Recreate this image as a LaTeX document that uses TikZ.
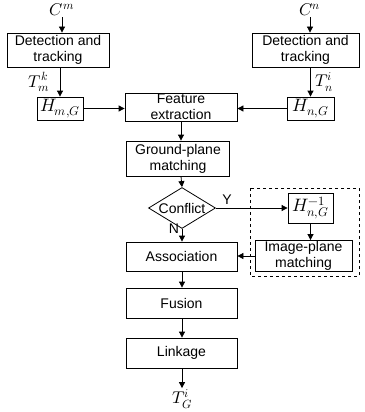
\documentclass[tikz,border=0pt]{standalone}
\usepackage{unicode-math}
\setmainfont{Liberation Sans}
\setmathfont{Latin Modern Math}
\usetikzlibrary{shapes.geometric,arrows.meta}
\begin{document}
\begin{tikzpicture}[x=1pt,y=-1pt,
  box/.style={draw,line width=0.8pt,inner sep=1pt,align=center,font=\fontsize{14}{16}\selectfont},
  mbox/.style={draw,line width=0.8pt,inner sep=1pt,align=center,font=\fontsize{18}{18}\selectfont},
  lab/.style={inner sep=1pt,font=\fontsize{17}{17}\selectfont},
  arr/.style={line width=0.8pt,-{Triangle[length=6pt,width=6pt]}},
  txt/.style={inner sep=1pt,font=\fontsize{14}{14}\selectfont}]
\useasboundingbox (0,0) rectangle (364,412);
% left column
\node[lab] (cm) at (62,10) {$C^m$};
\node[box,minimum width=102,minimum height=34] (det1) at (58,50) {Detection and\\tracking};
\node[lab] (tmk) at (39,82) {$T_m^k$};
\node[mbox,minimum width=46,minimum height=23] (hm) at (60,108.5) {$H_{m,G}$};
% right column
\node[lab] (cn) at (310,10) {$C^n$};
\node[box,minimum width=107,minimum height=34] (det2) at (305.5,50) {Detection and\\tracking};
\node[lab] (tni) at (324,82) {$T_n^i$};
\node[mbox,minimum width=47,minimum height=23] (hn) at (310.5,108.5) {$H_{n,G}$};
% main column
\node[box,minimum width=112,minimum height=28] (feat) at (181,107) {Feature\\extraction};
\node[box,minimum width=103,minimum height=35] (ground) at (178,158.5) {Ground-plane\\matching};
\node[draw,diamond,line width=0.8pt,inner sep=-4pt,minimum width=67,minimum height=31,font=\fontsize{14}{14}\selectfont] (conflict) at (182,208) {Conflict};
\node[txt] (y) at (227,200) {Y};
\node[txt] (n) at (174,229) {N};
\node[mbox,minimum width=45,minimum height=30] (hinv) at (310.5,208) {$H_{n,G}^{-1}$};
\node[box,minimum width=111,minimum height=29] (assoc) at (181.5,256.5) {Association};
\node[box,minimum width=97,minimum height=28] (img) at (303.5,256) {Image-plane\\matching};
\node[box,minimum width=111,minimum height=30] (fusion) at (181.5,303) {Fusion};
\node[box,minimum width=111,minimum height=30] (link) at (181.5,353) {Linkage};
\node[lab] (tgi) at (182,399) {$T_G^i$};
\draw[dashed,line width=0.8pt] (250,188) rectangle (359,276);
% connectors
\draw[arr] (cm.south) -- (cm.south |- det1.north);
\draw[arr] (det1.south -| hm.north) -- (hm.north);
\draw[arr] (cn.south) -- (cn.south |- det2.north);
\draw[arr] (det2.south -| hn.north) -- (hn.north);
\draw[arr] (hm.east) -- (hm.east -| feat.west);
\draw[arr] (hn.west) -- (hn.west -| feat.east);
\draw[arr] (feat.south) -- (feat.south |- ground.north);
\draw[arr] (feat.south |- ground.south) -- (conflict.north);
\draw[arr] (conflict.east) -- (hinv.west);
\draw[arr] (conflict.south) -- (conflict.south |- assoc.north);
\draw[arr] (hinv.south) -- (hinv.south |- img.north);
\draw[arr] (img.west) -- (img.west -| assoc.east);
\draw[arr] (conflict.south |- assoc.south) -- (conflict.south |- fusion.north);
\draw[arr] (conflict.south |- fusion.south) -- (conflict.south |- link.north);
\draw[arr] (conflict.south |- link.south) -- (tgi.north);
\end{tikzpicture}
\end{document}
